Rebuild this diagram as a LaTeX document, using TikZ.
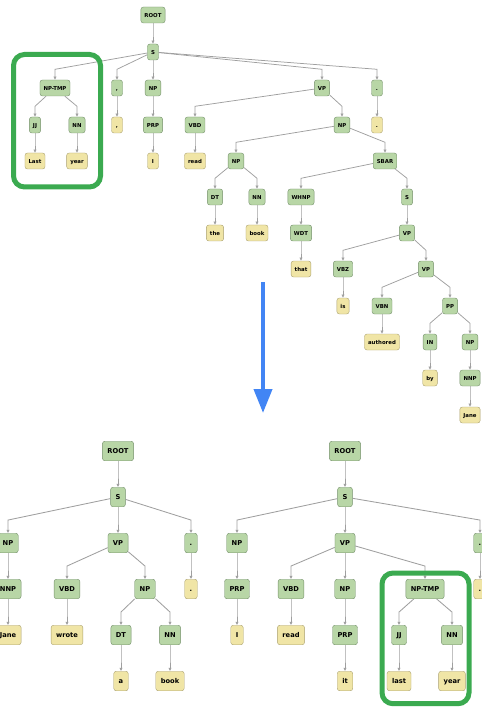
\documentclass[tikz,border=0pt]{standalone}
\usepackage{fontspec}
\setmainfont{DejaVu Sans}
\usepackage{tikz}
\usetikzlibrary{arrows.meta}

\definecolor{catfill}{HTML}{B8D6A6}
\definecolor{catline}{HTML}{74906A}
\definecolor{wordfill}{HTML}{F0E5A6}
\definecolor{wordline}{HTML}{AAA170}
\definecolor{edgegray}{HTML}{9F9F9F}
\definecolor{hiliteGreen}{HTML}{3BAA50}
\definecolor{shiftBlue}{HTML}{4285F4}

\begin{document}
\begin{tikzpicture}[
  x=1pt, y=-1pt,
  box/.style={draw, rounded corners=2.5pt, inner ysep=0pt, align=center,
    text height=0.74em, text depth=0.2em},
  cat/.style={box, fill=catfill, draw=catline},
  word/.style={box, fill=wordfill, draw=wordline},
  small/.style={font=\fontsize{5.4pt}{6pt}\selectfont\bfseries,
    minimum height=16pt, minimum width=11pt, inner xsep=3.6pt},
  large/.style={font=\fontsize{6.7pt}{8pt}\selectfont\bfseries,
    minimum height=19.5pt, minimum width=12pt, inner xsep=5pt},
  edge/.style={draw=edgegray, line width=0.85pt,
    -{Latex[length=3.2pt, width=3.4pt]}},
  hilite/.style={draw=hiliteGreen, line width=5pt, rounded corners=11pt},
  shiftarrow/.style={draw=shiftBlue, line width=4pt,
    -{Triangle[length=24pt, width=18pt]}}
]
\useasboundingbox (0,0) rectangle (481,708);

% Original parse (top)
\begin{scope}[every node/.append style={small}]
\node[cat] (t-root) at (153,15) {ROOT};
\node[cat] (t-s) at (153,52) {S};
\node[cat] (t-nptmp) at (55,88) {NP-TMP};
\node[cat] (t-comma) at (117,88) {,};
\node[cat] (t-np) at (153,88) {NP};
\node[cat] (t-vp) at (322,88) {VP};
\node[cat] (t-period) at (377,88) {.};
\node[cat] (t-jj) at (35,125) {JJ};
\node[cat] (t-nn) at (77,125) {NN};
\node[word] (t-commaw) at (117,125) {,};
\node[cat] (t-prp) at (153,125) {PRP};
\node[cat] (t-vbd) at (195,125) {VBD};
\node[cat] (t-np2) at (342,125) {NP};
\node[word] (t-periodw) at (377,125) {.};
\node[word] (t-last) at (35,161) {Last};
\node[word] (t-year) at (77,161) {year};
\node[word] (t-i) at (153,161) {I};
\node[word] (t-read) at (195,161) {read};
\node[cat] (t-np3) at (236,161) {NP};
\node[cat] (t-sbar) at (385,161) {SBAR};
\node[cat] (t-dt) at (215,197) {DT};
\node[cat] (t-nn2) at (257,197) {NN};
\node[cat] (t-whnp) at (301,197) {WHNP};
\node[cat] (t-s2) at (407,197) {S};
\node[word] (t-the) at (215,233) {the};
\node[word] (t-book) at (257,233) {book};
\node[cat] (t-wdt) at (301,233) {WDT};
\node[cat] (t-vp2) at (407,233) {VP};
\node[word] (t-that) at (301,269) {that};
\node[cat] (t-vbz) at (343,269) {VBZ};
\node[cat] (t-vp3) at (426,269) {VP};
\node[word] (t-is) at (343,306) {is};
\node[cat] (t-vbn) at (382,306) {VBN};
\node[cat] (t-pp) at (450,306) {PP};
\node[word] (t-authored) at (382,342) {authored};
\node[cat] (t-in) at (430,342) {IN};
\node[cat] (t-np4) at (470,342) {NP};
\node[word] (t-by) at (430,378) {by};
\node[cat] (t-nnp) at (470,378) {NNP};
\node[word] (t-jane) at (470,415) {Jane};
\end{scope}

\foreach \pa/\ch in {t-root/t-s, t-s/t-nptmp, t-s/t-comma, t-s/t-np, t-s/t-vp,
    t-s/t-period, t-nptmp/t-jj, t-nptmp/t-nn, t-jj/t-last, t-nn/t-year,
    t-comma/t-commaw, t-np/t-prp, t-prp/t-i, t-vp/t-vbd, t-vp/t-np2,
    t-period/t-periodw, t-vbd/t-read, t-np2/t-np3, t-np2/t-sbar,
    t-np3/t-dt, t-np3/t-nn2, t-dt/t-the, t-nn2/t-book, t-sbar/t-whnp,
    t-sbar/t-s2, t-whnp/t-wdt, t-wdt/t-that, t-s2/t-vp2, t-vp2/t-vbz,
    t-vp2/t-vp3, t-vbz/t-is, t-vp3/t-vbn, t-vp3/t-pp, t-vbn/t-authored,
    t-pp/t-in, t-pp/t-np4, t-in/t-by, t-np4/t-nnp, t-nnp/t-jane} {
  \draw[edge, line width=0.75pt] (\pa) -- ([yshift=10.5pt]\ch.north) -- (\ch.north);
}

\draw[hilite] (13.5,54.5) rectangle (100.5,187);

% Split arrow
\coordinate (arrow-top) at (263,282);
\coordinate (arrow-tip) at (263,413);
\draw[shiftarrow] (arrow-top) -- (arrow-tip);

% Split sentences (bottom)
\begin{scope}[every node/.append style={large}]
\node[cat] (b-root) at (118,451) {ROOT};
\node[cat] (b-s) at (118,497) {S};
\node[cat] (b-np) at (8,543) {NP};
\node[cat] (b-vp) at (118,543) {VP};
\node[cat] (b-period) at (191,543) {.};
\node[cat] (b-nnp) at (8,589) {NNP};
\node[cat] (b-vbd) at (67,589) {VBD};
\node[cat] (b-np2) at (145,589) {NP};
\node[word] (b-periodw) at (191,589) {.};
\node[word] (b-jane) at (8,635) {Jane};
\node[word] (b-wrote) at (67,635) {wrote};
\node[cat] (b-dt) at (121,635) {DT};
\node[cat] (b-nn) at (170,635) {NN};
\node[word] (b-a) at (121,681) {a};
\node[word] (b-book) at (170,681) {book};

\node[cat] (c-root) at (345,451) {ROOT};
\node[cat] (c-s) at (345,497) {S};
\node[cat] (c-np) at (237,543) {NP};
\node[cat] (c-vp) at (345,543) {VP};
\node[cat] (c-period) at (480,543) {.};
\node[cat] (c-prp) at (237,589) {PRP};
\node[cat] (c-vbd) at (291,589) {VBD};
\node[cat] (c-np2) at (345,589) {NP};
\node[cat] (c-nptmp) at (425,589) {NP-TMP};
\node[word] (c-periodw) at (480,589) {.};
\node[word] (c-i) at (237,635) {I};
\node[word] (c-read) at (291,635) {read};
\node[cat] (c-prp2) at (345,635) {PRP};
\node[cat] (c-jj) at (399,635) {JJ};
\node[cat] (c-nn) at (452,635) {NN};
\node[word] (c-it) at (345,681) {it};
\node[word] (c-last) at (399,681) {last};
\node[word] (c-year) at (452,681) {year};
\end{scope}

\foreach \pa/\ch in {b-root/b-s, b-s/b-np, b-s/b-vp, b-s/b-period,
    b-np/b-nnp, b-nnp/b-jane, b-vp/b-vbd, b-vp/b-np2, b-period/b-periodw,
    b-vbd/b-wrote, b-np2/b-dt, b-np2/b-nn, b-dt/b-a, b-nn/b-book,
    c-root/c-s, c-s/c-np, c-s/c-vp, c-s/c-period, c-np/c-prp, c-prp/c-i,
    c-vp/c-vbd, c-vp/c-np2, c-vp/c-nptmp, c-period/c-periodw,
    c-vbd/c-read, c-np2/c-prp2, c-prp2/c-it, c-nptmp/c-jj, c-nptmp/c-nn,
    c-jj/c-last, c-nn/c-year} {
  \draw[edge] (\pa) -- ([yshift=13pt]\ch.north) -- (\ch.north);
}

\draw[hilite] (382,573) rectangle (469,703.7);

\end{tikzpicture}
\end{document}
